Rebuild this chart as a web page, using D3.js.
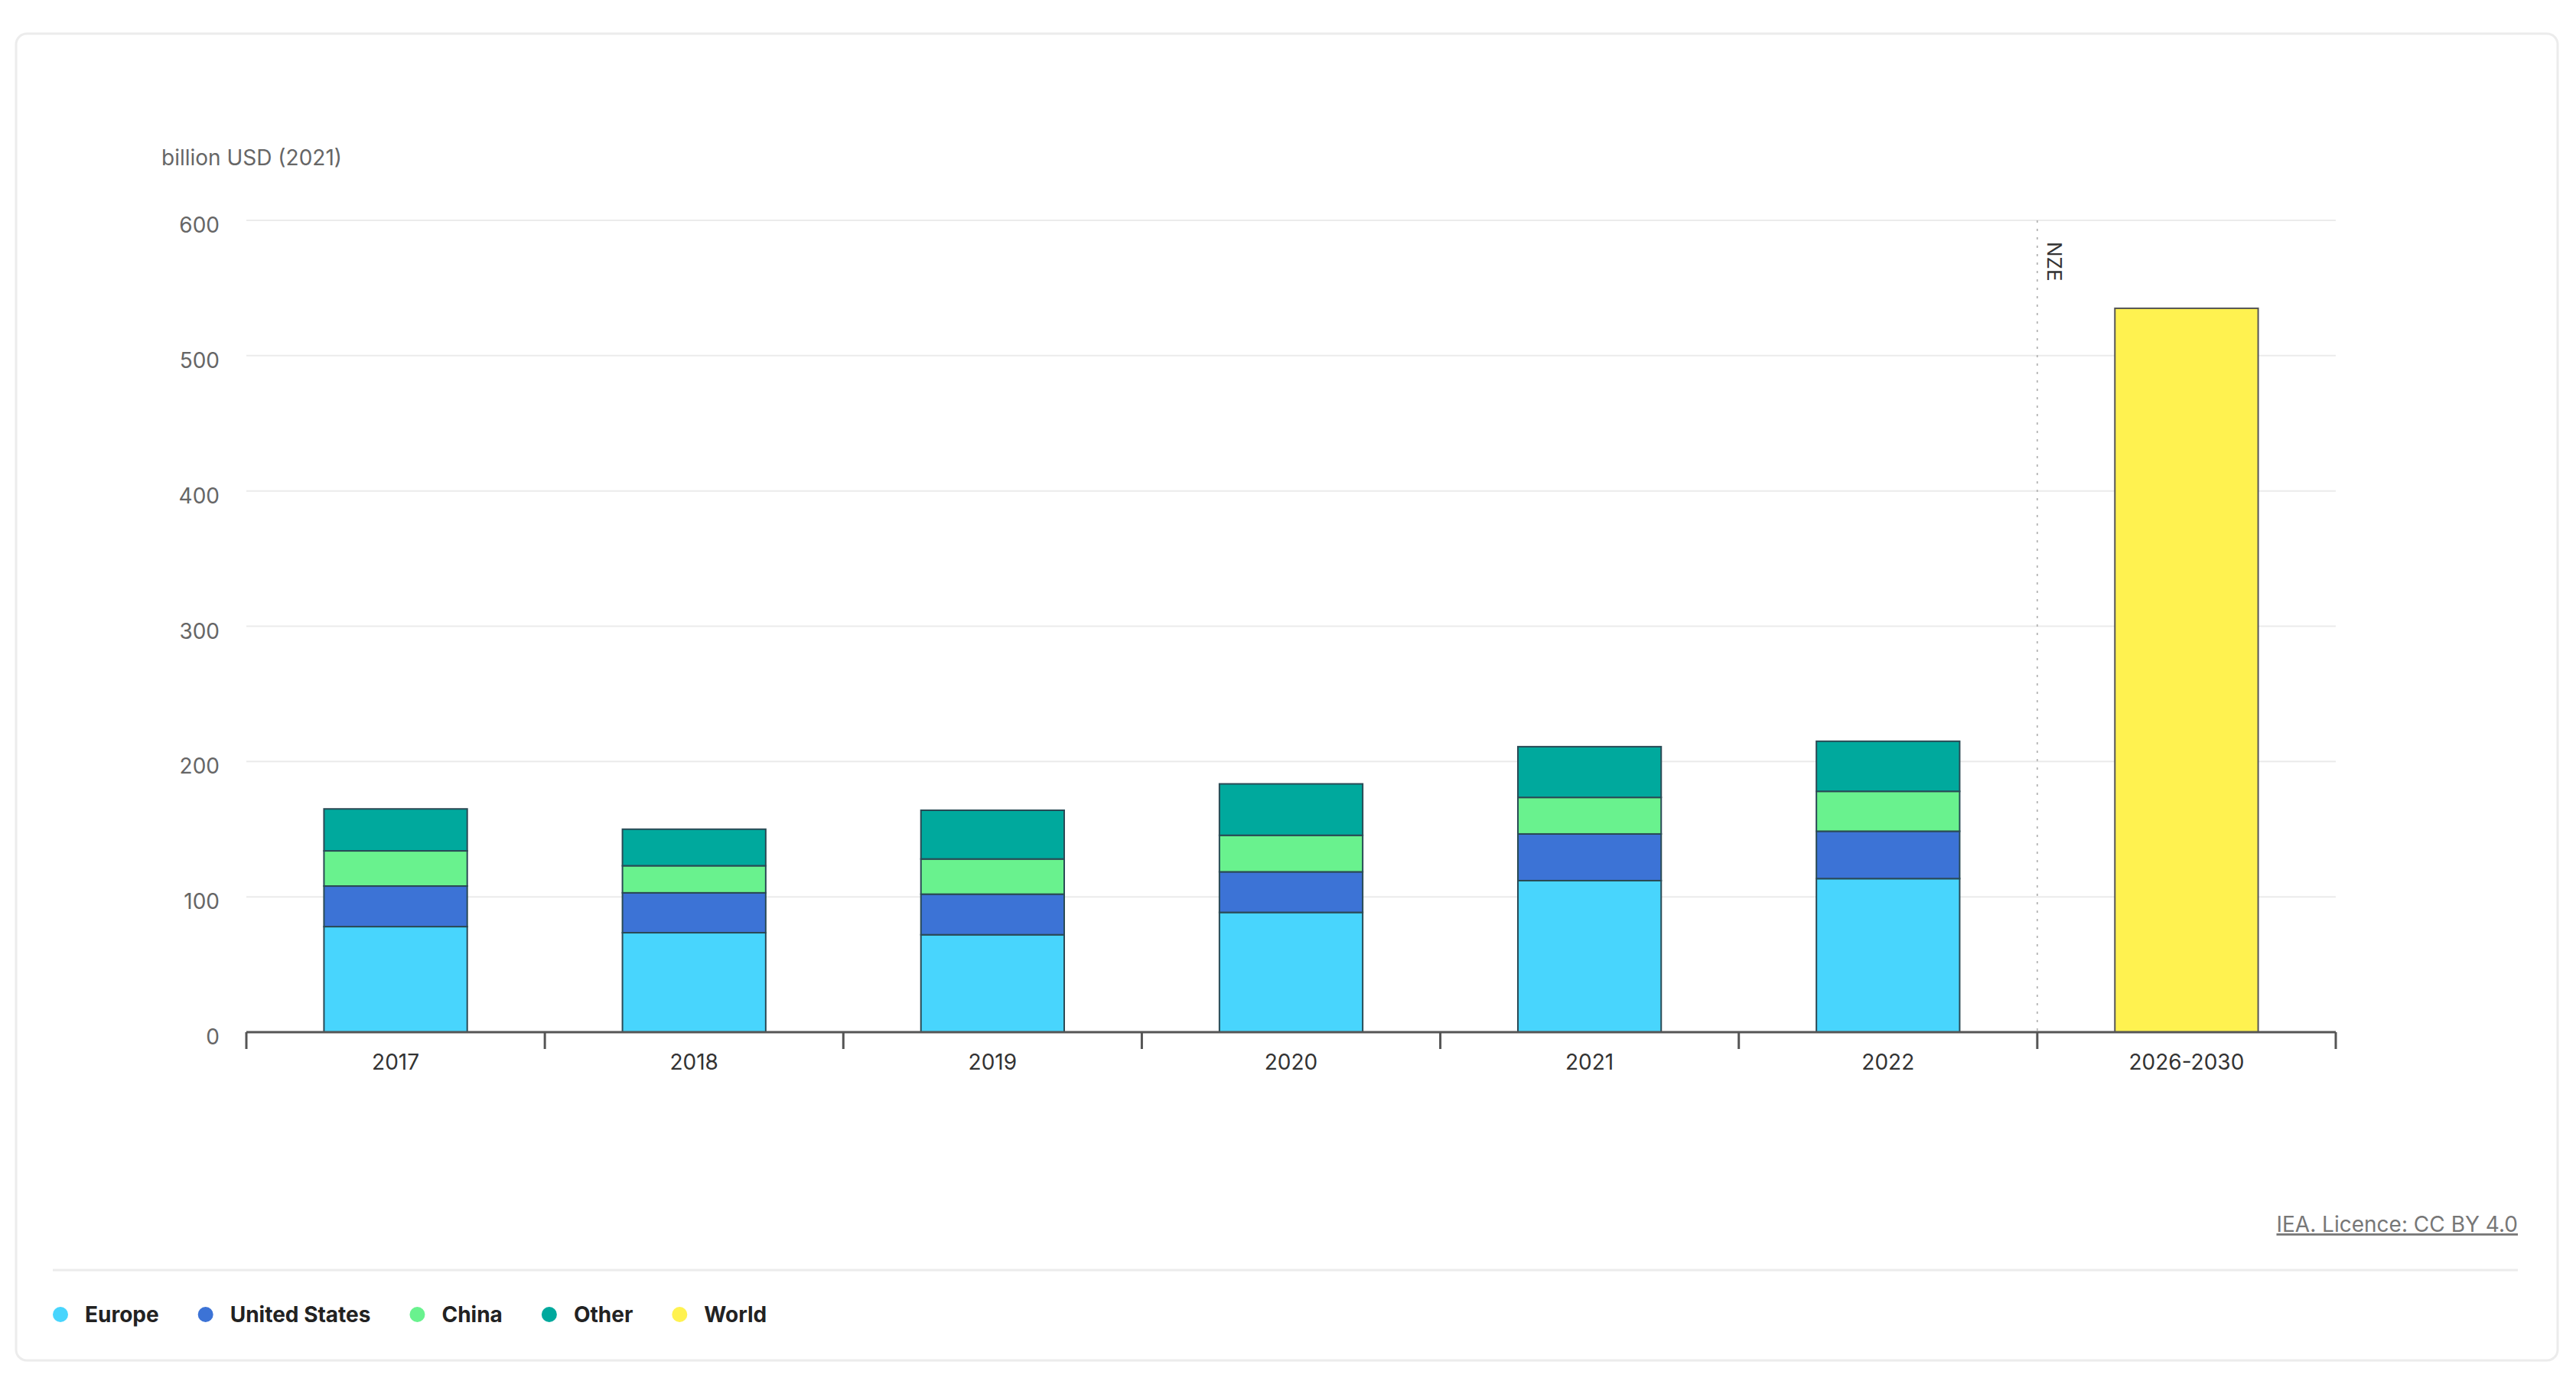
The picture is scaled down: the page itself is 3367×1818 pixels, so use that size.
<!DOCTYPE html>
<html>
<head>
<meta charset="utf-8">
<script src="https://cdn.jsdelivr.net/npm/d3@7"></script>
<style>
  body { margin: 0; background: #fff; }
  text { font-family: Inter, "Open Sans", sans-serif; }
</style>
</head>
<body>
<script>
  // categories and values, billion USD (2021)
  const years = ["2017", "2018", "2019", "2020", "2021", "2022", "2026-2030"]
  const regions = ["Europe", "United States", "China", "Other"]
  const europe = [78, 73.5, 72, 88.5, 112, 113.5, null]
  const unitedStates = [30, 29.5, 30, 30, 34.5, 35, null]
  const china = [26, 20, 26, 27, 27, 29.5, null]
  const other = [31, 27, 36, 38, 37.5, 37, null]
  const world = [null, null, null, null, null, null, 535]
  const yTicks = [0, 100, 200, 300, 400, 500, 600]
  const legendNames = ["Europe", "United States", "China", "Other", "World"]
  const colors = {
    "Europe": "#48d5fd",
    "United States": "#3c73d6",
    "China": "#69f28e",
    "Other": "#00a99d",
    "World": "#fff250"
  }

  const W = 3367, H = 1818
  const plotLeft = 322, plotRight = 3053, plotTop = 288, plotBottom = 1349

  const svg = d3.select("body").append("svg")
      .attr("width", W)
      .attr("height", H)

  // card
  svg.append("rect")
      .attr("x", 21).attr("y", 44)
      .attr("width", 3322).attr("height", 1734)
      .attr("rx", 14)
      .attr("fill", "#fff")
      .attr("stroke", "#ececec")
      .attr("stroke-width", 3)

  const x = d3.scaleBand()
      .domain(years)
      .range([plotLeft, plotRight])
      .paddingInner(0.52)
      .paddingOuter(0.26)

  const y = d3.scaleLinear()
      .domain([0, 600])
      .range([plotBottom, plotTop])

  // grid
  svg.append("g").selectAll("line")
    .data(yTicks.filter(d => d > 0))
    .enter().append("line")
      .attr("x1", plotLeft).attr("x2", plotRight)
      .attr("y1", d => y(d)).attr("y2", d => y(d))
      .attr("stroke", "#ebebeb")
      .attr("stroke-width", 2)

  // y labels
  svg.append("g").selectAll("text")
    .data(yTicks)
    .enter().append("text")
      .attr("x", 287)
      .attr("y", d => y(d) + 6)
      .attr("dy", "0.36em")
      .attr("text-anchor", "end")
      .attr("font-size", 28)
      .attr("fill", "#666")
      .text(d => d)

  svg.append("text")
      .attr("x", 211).attr("y", 216)
      .attr("font-size", 28)
      .attr("fill", "#666")
      .text("billion USD (2021)")

  const boundaries = d3.range(years.length + 1).map(i => plotLeft + i * x.step())

  // NZE marker
  const nzeX = boundaries[6]
  svg.append("line")
      .attr("x1", nzeX).attr("x2", nzeX)
      .attr("y1", plotTop).attr("y2", plotBottom)
      .attr("stroke", "#bbb")
      .attr("stroke-width", 2)
      .attr("stroke-dasharray", "3,8")
  svg.append("text")
      .attr("transform", "translate(" + (nzeX + 13) + "," + 316 + ")rotate(90)")
      .attr("font-size", 26)
      .attr("fill", "#333")
      .text("NZE")

  // stacked bars
  const rows = years.map((yr, i) => ({
    year: yr,
    "Europe": europe[i] || 0,
    "United States": unitedStates[i] || 0,
    "China": china[i] || 0,
    "Other": other[i] || 0
  }))
  const stack = d3.stack().keys(regions)(rows)

  svg.append("g").selectAll("g")
    .data(stack)
    .enter().append("g")
      .attr("fill", d => colors[d.key])
    .selectAll("rect")
    .data(d => d.filter(s => s[1] > s[0]))
    .enter().append("rect")
      .attr("x", d => x(d.data.year))
      .attr("width", x.bandwidth())
      .attr("y", d => y(d[1]))
      .attr("height", d => y(d[0]) - y(d[1]))
      .attr("stroke", "#2a4a55")
      .attr("stroke-width", 2)

  svg.append("g").selectAll("rect")
    .data(years.map((yr, i) => ({year: yr, value: world[i]})).filter(d => d.value))
    .enter().append("rect")
      .attr("x", d => x(d.year))
      .attr("width", x.bandwidth())
      .attr("y", d => y(d.value))
      .attr("height", d => y(0) - y(d.value))
      .attr("fill", colors["World"])
      .attr("stroke", "#555")
      .attr("stroke-width", 2)

  // x axis
  svg.append("line")
      .attr("x1", plotLeft).attr("x2", plotRight)
      .attr("y1", plotBottom).attr("y2", plotBottom)
      .attr("stroke", "#555")
      .attr("stroke-width", 3)
  svg.append("g").selectAll("line")
    .data(boundaries)
    .enter().append("line")
      .attr("x1", d => d).attr("x2", d => d)
      .attr("y1", plotBottom).attr("y2", plotBottom + 22)
      .attr("stroke", "#555")
      .attr("stroke-width", 3)
  svg.append("g").selectAll("text")
    .data(years)
    .enter().append("text")
      .attr("x", d => x(d) + x.bandwidth() / 2)
      .attr("y", 1398)
      .attr("text-anchor", "middle")
      .attr("font-size", 28)
      .attr("fill", "#333")
      .text(d => d)

  // licence
  svg.append("text")
      .attr("x", 3291).attr("y", 1610)
      .attr("text-anchor", "end")
      .attr("font-size", 28)
      .attr("fill", "#777")
      .attr("text-decoration", "underline")
      .text("IEA. Licence: CC BY 4.0")

  svg.append("line")
      .attr("x1", 69).attr("x2", 3291)
      .attr("y1", 1660).attr("y2", 1660)
      .attr("stroke", "#ececec")
      .attr("stroke-width", 3)

  // legend
  const legend = svg.append("g")
  let lx = 79
  legendNames.forEach(name => {
    legend.append("circle")
        .attr("cx", lx).attr("cy", 1718)
        .attr("r", 10)
        .attr("fill", colors[name])
    const t = legend.append("text")
        .attr("x", lx + 32).attr("y", 1718)
        .attr("dy", "0.36em")
        .attr("font-size", 28)
        .attr("font-weight", 700)
        .attr("fill", "#222")
        .text(name)
    lx += 32 + t.node().getComputedTextLength() + 61
  })
</script>
</body>
</html>
